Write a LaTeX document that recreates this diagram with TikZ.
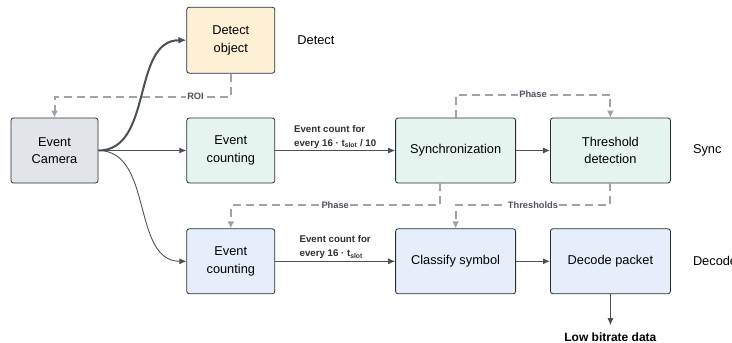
\documentclass[tikz,border=0pt]{standalone}
\usepackage{fontspec}
\setmainfont{Liberation Sans}
\usepackage{tikz}
\usetikzlibrary{positioning}
\usetikzlibrary{arrows.meta}
\definecolor{boxedge}{HTML}{2B2F36}
\definecolor{arrowgray}{HTML}{4A505A}
\definecolor{dashgray}{HTML}{9FA3A9}
\definecolor{labelgray}{HTML}{4F545C}
\definecolor{camfill}{HTML}{E1E4E8}
\definecolor{detfill}{HTML}{FDF0D5}
\definecolor{syncfill}{HTML}{E6F4F0}
\definecolor{decfill}{HTML}{E6EFF9}
\tikzstyle{line} = [draw, color=arrowgray, line width=0.9pt, -{Latex[length=7pt,width=6pt]}]
\tikzstyle{feedback} = [draw, color=dashgray, line width=2pt, dash pattern=on 8pt off 5pt,
-{Latex[length=7pt,width=7pt]}]

\begin{document}
\begin{tikzpicture}[x=1pt, y=1pt,
      block/.style={draw=boxedge,
      line width=0.8pt,
      rounded corners=2.5pt,
      minimum width=120pt,
      minimum height=65pt,
      align=center,
      font=\fontsize{12.8}{17.5}\selectfont},
      stage/.style={inner sep=0pt, font=\fontsize{12.8}{14}\selectfont},
      edgetext/.style={above, align=left, inner sep=2pt, text=boxedge,
      font=\bfseries\fontsize{9.7}{14}\selectfont},
      fbl/.style={fill=white, inner sep=1pt, text=labelgray,
      font=\bfseries\fontsize{9.3}{10}\selectfont}]
    \useasboundingbox (0,0) rectangle (732,-343);
    \node [block, minimum width=87pt, fill=camfill] (C) at (54.5,-150.5) {Event\\Camera};
    \node [block, minimum width=88pt, right=88pt of C, fill=syncfill] (N1) {Event\\counting};
    \node [block, minimum width=88pt, minimum height=66pt, above=44pt of N1, fill=detfill] (D) {Detect\\object};
    \node [block, right=120pt of N1, fill=syncfill] (Y) {Synchronization};
    \node [block, right=34pt of Y, fill=syncfill] (T) {Threshold\\detection};
    \node [block, minimum width=88pt, below=45pt of N1, fill=decfill] (N2) {Event\\counting};
    \node [block, below=45pt of Y, fill=decfill] (K) {Classify symbol};
    \node [block, below=45pt of T, fill=decfill] (P) {Decode packet};
    \node [below=37pt of P, inner sep=1pt, font=\bfseries\fontsize{12}{14}\selectfont] (O) {Low bitrate data};
    %% Stages
    \node [stage, right=22pt of D] (sD) {Detect};
    \node [stage, right=22pt of T] (sY) {Sync};
    \node [stage, right=22pt of P] (sP) {Decode};
    %% Data flow
    \path [line, line width=2pt, -{Latex[length=8pt,width=7pt]}] (C.east) to [out=0, in=180] (D.west);
    \path [line] (C.east) -- (N1.west);
    \path [line] (C.east) to [out=0, in=180] (N2.west);
    \path [line] (N1) to node [edgetext] {Event count for\\every 16 · t\textsubscript{slot} / 10} (Y);
    \path [line] (Y) -- (T);
    \path [line] (N2) to node [edgetext] {Event count for\\every 16 · t\textsubscript{slot}} (K);
    \path [line] (K) -- (P);
    \path [line, shorten >=6pt] (P) -- (O);
    %% Feedback
    \path [feedback] (D.south) -- ++(0,-23) -| node [fbl, pos=0.1] {ROI} (C.north);
    \path [feedback] (Y.north) -- ++(0,23) -| node [fbl, pos=0.25] {Phase} (T.north);
    \path [feedback] ([xshift=-16pt]Y.south) -- ++(0,-22) -| node [fbl, pos=0.25] {Phase} (N2.north);
    \path [feedback] (T.south) -- ++(0,-22) -| node [fbl, pos=0.25] {Thresholds} (K.north);
  \end{tikzpicture}
\end{document}
